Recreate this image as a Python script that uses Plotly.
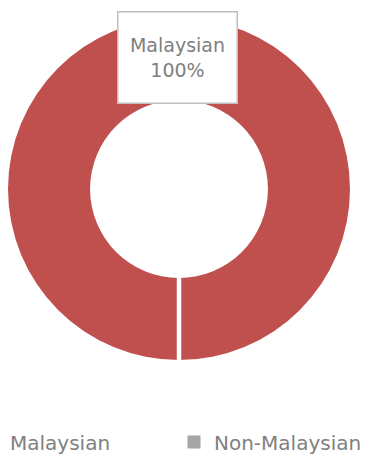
import plotly.graph_objects as go

# Nationality split of the group
labels = ["Malaysian", "Non-Malaysian"]
values = [100, 0]
colors = ["#C0504D", "#A5A5A5"]

W, H = 369, 454
# donut placement in pixels
cx, cy, r = 179, 189, 171
hole = 0.52

dom_x = [(cx - r) / W, (cx + r) / W]
dom_y = [1 - (cy + r) / H, 1 - (cy - r) / H]

FONT = "DejaVu Sans"
GREY = "#808080"

# left edge (px) of each legend entry along the bottom row
legend_left = [-30, 174]
legend_names = ["legend", "legend2"]

fig = go.Figure()
# each category gets its own legend box so the entries can be spaced
# freely; categories with a share draw a ring, empty ones only a key
for lab, val, col, lg in zip(labels, values, colors, legend_names):
    if val > 0:
        fig.add_trace(go.Pie(
            labels=[lab],
            values=[val],
            hole=hole,
            sort=False,
            direction="clockwise",
            rotation=180,
            marker=dict(colors=[col], line=dict(color="white", width=0)),
            textinfo="none",
            hoverinfo="label+value",
            domain=dict(x=dom_x, y=dom_y),
            showlegend=True,
            legend=lg,
        ))
    else:
        fig.add_trace(go.Scatter(
            x=[None], y=[None], name=lab, mode="markers",
            marker=dict(symbol="square", size=13, color=col,
                        line=dict(width=0)),
            showlegend=True,
            legend=lg,
        ))

# slice seam at the start angle (bottom of the ring)
fig.add_shape(type="line", xref="paper", yref="paper",
              x0=cx / W, x1=cx / W,
              y0=1 - (cy + r + 2) / H, y1=1 - (cy + r * hole - 2) / H,
              line=dict(color="white", width=4.5))

total = sum(values)
fig.add_annotation(
    xref="paper", yref="paper",
    x=177.5 / W, y=1 - 57.5 / H,
    xanchor="center", yanchor="middle",
    text=f"{labels[0]}<br>{values[0] / total:.0%}",
    showarrow=False,
    font=dict(family=FONT, size=19, color=GREY),
    bgcolor="white", bordercolor="#BFBFBF", borderwidth=1.5,
    width=116, height=88, align="center",
)

legend_style = dict(orientation="h", y=1 - 442 / H,
                    xanchor="left", yanchor="middle",
                    visible=True,
                    font=dict(family=FONT, size=20, color=GREY))

fig.update_layout(
    width=W, height=H,
    margin=dict(l=0, r=0, t=0, b=0, autoexpand=False),
    paper_bgcolor="white",
    plot_bgcolor="white",
    showlegend=True,
    xaxis=dict(visible=False),
    yaxis=dict(visible=False),
    font=dict(family=FONT, size=19, color=GREY),
    legend=dict(x=legend_left[0] / W, **legend_style),
    legend2=dict(x=legend_left[1] / W, **legend_style),
)

fig.write_html("out.html")
